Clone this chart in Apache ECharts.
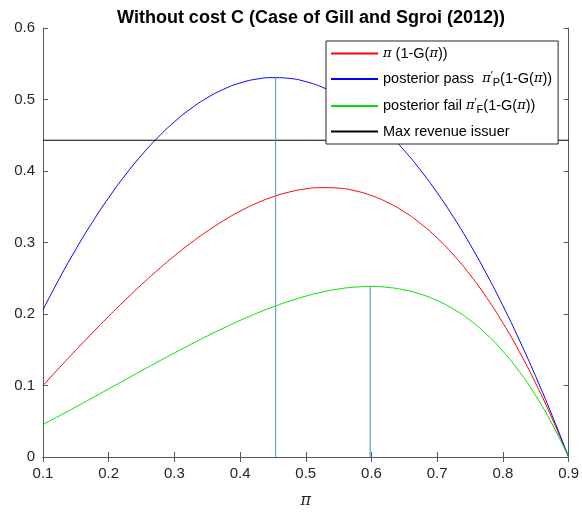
<!DOCTYPE html>
<html>
<head>
<meta charset="utf-8">
<script src="https://cdn.jsdelivr.net/npm/echarts@6/dist/echarts.min.js"></script>
<style>
  html, body { margin: 0; padding: 0; background: #fff; }
  #chart { width: 582px; height: 514px; }
</style>
</head>
<body>
<div id="chart"></div>
<script>
var piValues = [0.100, 0.125, 0.150, 0.175, 0.200, 0.225, 0.250, 0.275, 0.300, 0.325, 0.350, 0.375, 0.400, 0.425, 0.450, 0.475,
                0.500, 0.525, 0.550, 0.575, 0.600, 0.625, 0.650, 0.675, 0.700, 0.725, 0.750, 0.775, 0.800, 0.825, 0.850, 0.875, 0.900];
var revenue = [0.1000, 0.1249, 0.1494, 0.1735, 0.1969, 0.2195, 0.2412, 0.2618, 0.2813, 0.2993, 0.3158, 0.3307, 0.3438, 0.3549, 0.3639, 0.3706,
               0.3750, 0.3768, 0.3760, 0.3723, 0.3656, 0.3558, 0.3428, 0.3263, 0.3063, 0.2825, 0.2549, 0.2233, 0.1875, 0.1474, 0.1029, 0.0538, 0];
var passRevenue = [0.2059, 0.2498, 0.2905, 0.3282, 0.3627, 0.3940, 0.4221, 0.4470, 0.4688, 0.4872, 0.5024, 0.5144, 0.5231, 0.5285, 0.5306, 0.5295,
                   0.5250, 0.5172, 0.5061, 0.4917, 0.4740, 0.4529, 0.4285, 0.4007, 0.3696, 0.3352, 0.2974, 0.2562, 0.2117, 0.1638, 0.1126, 0.0580, 0];
var failRevenue = [0.0455, 0.0576, 0.0700, 0.0826, 0.0953, 0.1080, 0.1206, 0.1331, 0.1455, 0.1575, 0.1692, 0.1804, 0.1910, 0.2009, 0.2099, 0.2180,
                   0.2250, 0.2307, 0.2350, 0.2376, 0.2385, 0.2372, 0.2337, 0.2277, 0.2188, 0.2067, 0.1912, 0.1718, 0.1480, 0.1195, 0.0858, 0.0461, 0];
var maxIssuer = 0.443;
var passPeak = [0.454, 0.5307];
var failPeak = [0.598, 0.2385];

var names = ['π (1-G(π))', "posterior pass  π'P(1-G(π))", "posterior fail π'F(1-G(π))", 'Max revenue issuer'];
var legendRich = {};
legendRich[names[0]] = '{it|π} (1-G({it|π}))';
legendRich[names[1]] = 'posterior pass  {it|π}{sup|′}{sub|P}(1-G({it|π}))';
legendRich[names[2]] = 'posterior fail {it|π}{sup|′}{sub|F}(1-G({it|π}))';
legendRich[names[3]] = 'Max revenue issuer';

function pairs(ys) {
  return piValues.map(function (x, i) { return [x, ys[i]]; });
}

var chart = echarts.init(document.getElementById('chart'));
var axisColor = '#5a5a5a';
var labelColor = '#262626';

var option = {
  animation: false,
  textStyle: { fontFamily: 'Liberation Sans, Arial, sans-serif' },
  title: {
    text: 'Without cost C (Case of Gill and Sgroi (2012))',
    left: 306, top: 4, textAlign: 'center',
    textStyle: { fontSize: 18, fontWeight: 'bold', color: '#000' }
  },
  grid: { left: 43, right: 13, top: 28, bottom: 55 },
  legend: {
    data: names,
    orient: 'vertical',
    left: 326, top: 41,
    padding: [5, 6, 5, 4],
    itemGap: 9,
    itemWidth: 47,
    itemHeight: 16,
    backgroundColor: '#fff',
    borderColor: '#262626',
    borderWidth: 1,
    borderRadius: 0,
    itemStyle: { opacity: 0 },
    textStyle: {
      fontSize: 14.5, color: '#000',
      rich: {
        it: { fontFamily: 'DejaVu Serif', fontStyle: 'italic', fontSize: 13 },
        sup: { fontSize: 11, verticalAlign: 'top', padding: [0, 0, 6, 0] },
        sub: { fontSize: 11, verticalAlign: 'bottom', padding: [7, 0, 0, 0] }
      }
    },
    formatter: function (n) { return legendRich[n]; }
  },
  xAxis: [{
    type: 'value', min: 0.1, max: 0.9, interval: 0.1,
    name: 'π', nameLocation: 'middle', nameGap: 36,
    nameTextStyle: { fontFamily: 'DejaVu Serif', fontStyle: 'italic', fontSize: 16, color: labelColor },
    axisLine: { lineStyle: { color: axisColor } },
    axisTick: { inside: true, length: 5, lineStyle: { color: axisColor } },
    axisLabel: { fontSize: 15, color: labelColor, margin: 9 },
    splitLine: { show: false }
  }, {
    type: 'value', min: 0.1, max: 0.9, interval: 0.1, position: 'top',
    axisLine: { lineStyle: { color: axisColor } },
    axisTick: { inside: true, length: 5, lineStyle: { color: axisColor } },
    axisLabel: { show: false },
    splitLine: { show: false }
  }],
  yAxis: [{
    type: 'value', min: 0, max: 0.6, interval: 0.1,
    axisLine: { show: true, lineStyle: { color: axisColor } },
    axisTick: { show: true, inside: true, length: 5, lineStyle: { color: axisColor } },
    axisLabel: { fontSize: 15, color: labelColor, margin: 8 },
    splitLine: { show: false }
  }, {
    type: 'value', min: 0, max: 0.6, interval: 0.1, position: 'right',
    axisLine: { show: true, lineStyle: { color: axisColor } },
    axisTick: { show: true, inside: true, length: 5, lineStyle: { color: axisColor } },
    axisLabel: { show: false },
    splitLine: { show: false }
  }],
  series: [
    {
      name: names[0], type: 'line', data: pairs(revenue), smooth: true,
      symbol: 'none', color: '#ff0000', lineStyle: { width: 1 }
    },
    {
      name: names[1], type: 'line', data: pairs(passRevenue), smooth: true,
      symbol: 'none', color: '#0000ff', lineStyle: { width: 1 }
    },
    {
      name: names[2], type: 'line', data: pairs(failRevenue), smooth: true,
      symbol: 'none', color: '#00e000', lineStyle: { width: 1 }
    },
    {
      name: names[3], type: 'line', data: [[0.1, maxIssuer], [0.9, maxIssuer]],
      symbol: 'none', color: '#000000', lineStyle: { width: 1 }
    },
    {
      name: 'peak pass', type: 'line', data: [[passPeak[0], 0], passPeak],
      symbol: 'none', color: '#5ea6cf', lineStyle: { width: 1.2 }
    },
    {
      name: 'peak fail', type: 'line', data: [[failPeak[0], 0], failPeak],
      symbol: 'none', color: '#5ea6cf', lineStyle: { width: 1.2 }
    }
  ]
};

chart.setOption(option);
</script>
</body>
</html>
